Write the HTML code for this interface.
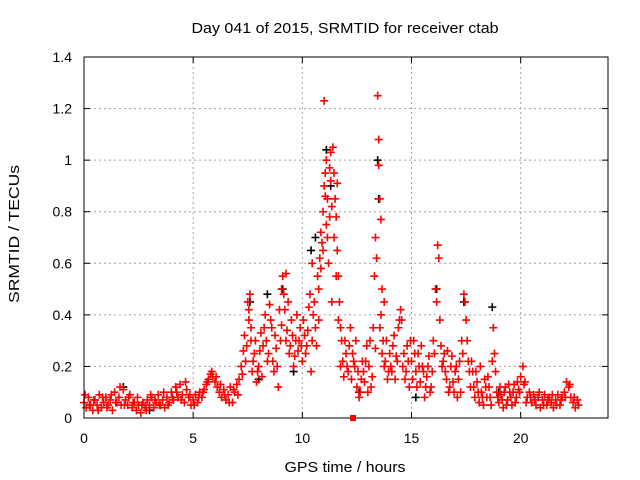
<!DOCTYPE html>
<html><head><meta charset="utf-8"><style>
body{margin:0;background:#fff;}
svg{display:block;font-family:"Liberation Sans",sans-serif;}
</style></head><body>
<svg id="chart" width="640" height="480" viewBox="0 0 640 480">
<text x="345" y="33" font-size="15" text-anchor="middle" textLength="307" lengthAdjust="spacingAndGlyphs">Day 041 of 2015, SRMTID for receiver ctab</text>
<text x="345" y="472" font-size="15" text-anchor="middle" textLength="121" lengthAdjust="spacingAndGlyphs">GPS time / hours</text>
<text transform="translate(19,234) rotate(-90)" font-size="15" text-anchor="middle" textLength="138" lengthAdjust="spacingAndGlyphs">SRMTID / TECUs</text>
<g id="grid"></g>
<g id="ticks"></g>
<g id="black"></g>
<g id="red"></g>
<rect x="84" y="57" width="524" height="361" fill="none" stroke="#000" stroke-width="1"/>
<rect x="350" y="415" width="6" height="6" fill="#f00"/>
</svg>
<script>
const xTicks=[0,5,10,15,20];
const yTicks=[0,0.2,0.4,0.6,0.8,1,1.2,1.4];
const yTickLabels=["0","0.2","0.4","0.6","0.8","1","1.2","1.4"];
const redT=[0,0.1,0.2,0.3,0.4,0.5,0.6,0.7,0.8,0.9,1.0,1.1,1.2,1.3,1.4,1.5,1.6,1.7,1.8,1.9,2.0,2.1,2.2,2.3,2.4,2.5,2.6,2.7,2.8,2.9,3.0,3.1,3.2,3.3,3.4,3.5,3.6,3.7,3.8,3.9,4.0,4.1,4.2,4.3,4.4,4.5,4.6,4.7,4.8,4.9,5.0,5.1,5.2,5.3,5.4,5.5,5.6,5.7,5.8,5.9,6.0,6.1,6.2,6.3,6.4,6.5,6.6,6.7,6.8,6.9,7.0,7.1,7.2,7.3,7.35,7.4,7.5,7.55,7.6,7.65,7.7,7.8,7.9,8.0,8.1,8.2,8.3,8.4,8.5,8.6,8.7,8.8,8.9,9.0,9.05,9.1,9.2,9.25,9.3,9.4,9.5,9.6,9.7,9.8,9.9,10.0,10.1,10.2,10.3,10.4,10.45,10.5,10.6,10.7,10.75,10.8,10.85,10.9,10.95,11.0,11.0,11.05,11.1,11.1,11.15,11.2,11.25,11.3,11.3,11.35,11.4,11.45,11.5,11.55,11.6,11.6,11.65,11.7,11.75,11.8,11.9,12.0,12.1,12.2,12.3,12.4,12.5,12.6,12.7,12.8,12.9,13.0,13.1,13.2,13.3,13.35,13.4,13.45,13.5,13.5,13.55,13.6,13.6,13.65,13.7,13.75,13.8,13.9,14.0,14.1,14.2,14.3,14.4,14.5,14.55,14.6,14.7,14.8,14.9,15.0,15.1,15.2,15.3,15.4,15.5,15.6,15.7,15.8,15.9,16.0,16.1,16.15,16.2,16.25,16.3,16.4,16.5,16.6,16.7,16.8,16.9,17.0,17.1,17.2,17.3,17.4,17.45,17.5,17.6,17.7,17.8,17.9,18.0,18.1,18.2,18.3,18.4,18.5,18.6,18.7,18.75,18.8,18.9,19.0,19.1,19.2,19.3,19.4,19.5,19.6,19.7,19.8,19.9,20.0,20.1,20.2,20.3,20.4,20.5,20.6,20.7,20.8,20.9,21.0,21.1,21.2,21.3,21.4,21.5,21.6,21.7,21.8,21.9,22.0,22.1,22.2,22.3,22.4,22.5,22.6];
const redV=[.06,.04,.08,.05,.03,.07,.05,.09,.04,.06,.08,.05,.07,.03,.1,.06,.08,.05,.11,.07,.05,.09,.04,.06,.03,.05,.02,.06,.04,.07,.05,.08,.04,.06,.09,.05,.07,.04,.08,.06,.1,.07,.12,.08,.13,.09,.06,.11,.08,.05,.07,.09,.06,.1,.08,.11,.13,.15,.17,.16,.14,.12,.1,.08,.11,.07,.09,.12,.06,.1,.13,.15,.2,.26,.32,.22,.45,.38,.48,.3,.18,.25,.14,.2,.33,.28,.4,.22,.44,.35,.18,.27,.12,.3,.5,.55,.42,.56,.34,.25,.38,.2,.3,.26,.35,.22,.32,.28,.43,.18,.6,.4,.35,.55,.5,.62,.72,.68,.8,.9,1.23,.95,.75,1.0,.85,.6,.78,.92,1.03,.45,1.05,.7,.85,.55,.65,.91,.38,.45,.2,.3,.16,.25,.18,.35,.25,.2,.12,.08,.15,.18,.22,.1,.3,.16,.55,.7,.62,1.25,1.08,.98,.85,.77,.4,.5,.3,.45,.22,.15,.25,.18,.32,.24,.35,.42,.38,.2,.15,.28,.12,.22,.3,.18,.25,.14,.2,.08,.16,.24,.12,.3,.5,.45,.67,.62,.38,.2,.25,.15,.1,.2,.14,.18,.08,.22,.3,.48,.45,.38,.22,.12,.18,.08,.14,.06,.1,.05,.12,.16,.08,.22,.35,.25,.1,.06,.09,.04,.12,.07,.1,.05,.13,.08,.11,.16,.2,.14,.08,.1,.06,.09,.05,.08,.04,.07,.09,.05,.08,.06,.04,.07,.09,.05,.08,.1,.14,.12,.08,.06,.04,.07];
const red2T=[0.05,0.25,0.45,0.65,0.85,1.05,1.25,1.45,1.65,1.85,2.05,2.25,2.45,2.65,2.85,3.05,3.25,3.45,3.65,3.85,4.05,4.25,4.45,4.65,4.85,5.05,5.25,5.45,5.65,5.85,6.05,6.25,6.45,6.65,6.85,7.05,7.25,7.45,7.55,7.65,7.75,7.85,7.95,8.05,8.15,8.25,8.35,8.45,8.55,8.65,8.75,8.85,8.95,9.05,9.15,9.25,9.35,9.45,9.55,9.65,9.75,9.85,9.95,10.05,10.15,10.25,10.35,10.45,10.55,10.65,10.75,10.85,10.95,11.05,11.15,11.25,11.35,11.45,11.55,11.65,11.75,11.85,11.95,12.05,12.15,12.25,12.35,12.45,12.55,12.65,12.75,12.85,12.95,13.05,13.15,13.25,13.35,13.55,13.65,13.75,13.85,13.95,14.05,14.15,14.25,14.35,14.45,14.65,14.75,14.85,14.95,15.05,15.15,15.25,15.35,15.45,15.55,15.65,15.75,15.85,15.95,16.05,16.35,16.45,16.55,16.65,16.75,16.85,16.95,17.05,17.15,17.25,17.35,17.55,17.65,17.75,17.85,17.95,18.05,18.15,18.25,18.35,18.45,18.55,18.65,18.85,18.95,19.05,19.15,19.25,19.35,19.45,19.55,19.65,19.75,19.85,19.95,20.15,20.25,20.45,20.65,20.85,21.05,21.25,21.45,21.65,21.85,22.05,22.25,22.45,22.65];
const red2V=[.09,.05,.07,.03,.08,.04,.09,.06,.12,.05,.08,.06,.08,.05,.03,.09,.07,.05,.1,.05,.08,.1,.07,.14,.09,.05,.08,.1,.14,.18,.16,.13,.09,.06,.11,.09,.17,.28,.42,.35,.22,.3,.18,.26,.16,.35,.3,.25,.38,.22,.32,.2,.42,.36,.48,.3,.45,.28,.32,.24,.4,.3,.28,.38,.25,.34,.48,.3,.45,.28,.38,.58,.65,.86,.7,.97,.82,.95,.78,.55,.35,.22,.3,.2,.28,.15,.22,.3,.18,.1,.22,.14,.28,.2,.12,.35,.27,.35,.25,.2,.3,.18,.2,.28,.15,.22,.38,.25,.18,.22,.3,.15,.25,.12,.2,.28,.18,.12,.2,.1,.18,.25,.28,.22,.18,.26,.12,.24,.1,.2,.15,.1,.25,.3,.18,.22,.12,.18,.1,.2,.08,.15,.08,.12,.05,.18,.08,.12,.07,.1,.05,.13,.08,.1,.06,.14,.1,.13,.06,.08,.07,.1,.05,.07,.09,.05,.07,.08,.13,.08,.05];
const blackT=[1.8,3.0,7.6,8.0,8.4,9.1,9.6,10.4,10.6,11.1,11.3,12.6,13.45,13.5,15.2,16.15,17.4,18.7,19.0];
const blackV=[.12,.03,.45,.15,.48,.5,.18,.65,.7,1.04,.9,.1,1.0,.85,.08,.5,.45,.43,.1];

const X0=84,X1=608,Y0=418,Y1=57,XMAX=24,YMAX=1.4;
const xs=t=>X0+(X1-X0)*t/XMAX;
const ys=v=>Y0-(Y0-Y1)*v/YMAX;
const NS="http://www.w3.org/2000/svg";
function mk(tag,attrs,parent){const e=document.createElementNS(NS,tag);for(const k in attrs)e.setAttribute(k,attrs[k]);parent.appendChild(e);return e;}
const grid=document.getElementById('grid'),ticks=document.getElementById('ticks');
xTicks.forEach(t=>{
  const x=xs(t);
  if(t>0){const g=mk('line',{x1:x,x2:x,y1:Y1,y2:Y0,stroke:'#a0a0a0','stroke-dasharray':'2,3'},grid);
  
  }
  mk('line',{x1:x,x2:x,y1:Y0,y2:Y0-6,stroke:'#000'},ticks);
  mk('line',{x1:x,x2:x,y1:Y1,y2:Y1+6,stroke:'#000'},ticks);
  const l=mk('text',{x:x,y:443,'font-size':14,'text-anchor':'middle'},ticks);
  l.textContent=String(t);
  
  
});
yTicks.forEach((v,i)=>{
  const y=ys(v);
  if(v>0&&v<YMAX){const g=mk('line',{x1:X0,x2:X1,y1:y,y2:y,stroke:'#a0a0a0','stroke-dasharray':'2,3'},grid);
  
  }
  mk('line',{x1:X0,x2:X0+6,y1:y,y2:y,stroke:'#000'},ticks);
  mk('line',{x1:X1,x2:X1-6,y1:y,y2:y,stroke:'#000'},ticks);
  const l=mk('text',{x:72,y:y+5,'font-size':14,'text-anchor':'end'},ticks);
  l.textContent=yTickLabels[i];
  
  
});
function plus(T,V,color,g){
  let d='';
  for(let i=0;i<T.length;i++){const x=xs(T[i]),y=ys(V[i]);d+=`M${x-4},${y}h8M${x},${y-4}v8`;}
  mk('path',{d:d,stroke:color,'stroke-width':1.6,fill:'none'},g);
}
plus(blackT,blackV,'#000',document.getElementById('black'));
plus(redT,redV,'#f00',document.getElementById('red'));
plus(red2T,red2V,'#f00',document.getElementById('red'));
</script>
</body></html>
